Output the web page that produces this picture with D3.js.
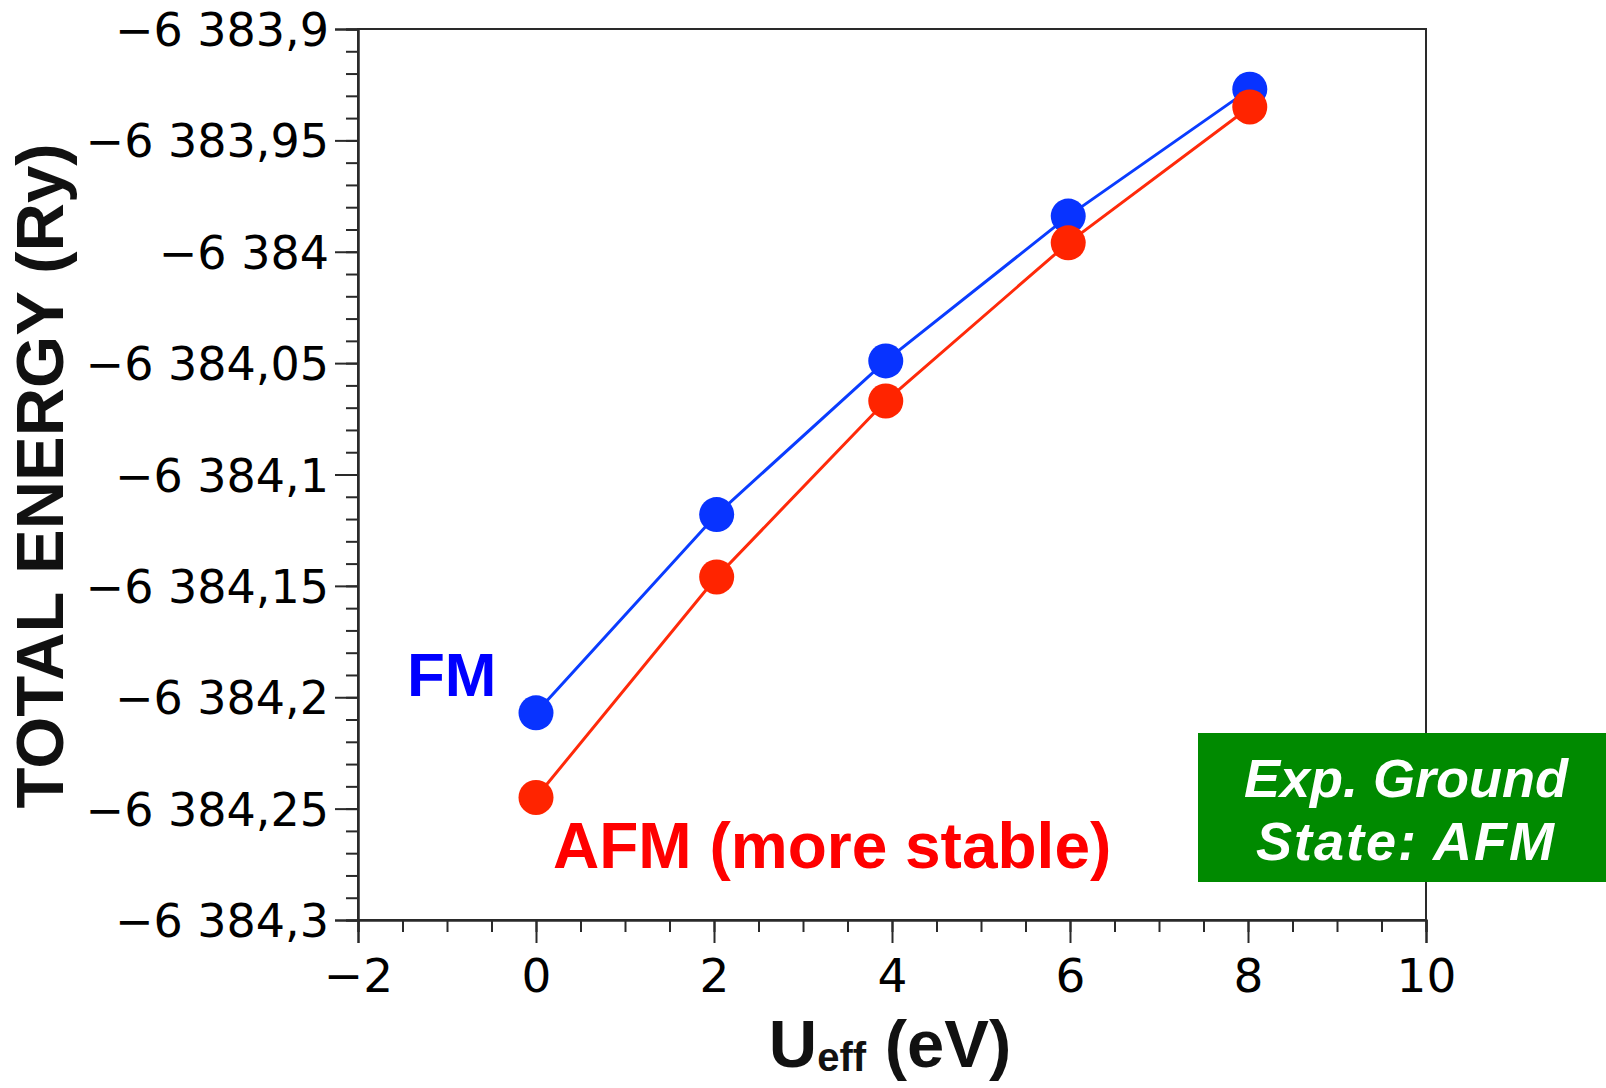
<!DOCTYPE html>
<html>
<head>
<meta charset="utf-8">
<script src="https://cdn.jsdelivr.net/npm/d3@7"></script>
<style>
  html, body { margin: 0; padding: 0; background: #fff; }
  svg { display: block; }
</style>
</head>
<body>
<svg id="chart" width="1606" height="1088"></svg>
<script>
// ---- data ----
const uEff = [0, 2.03, 3.93, 5.98, 8.02];
const fmEnergy = [-6384.207, -6384.118, -6384.049, -6383.984, -6383.927];
const afmEnergy = [-6384.245, -6384.146, -6384.067, -6383.996, -6383.935];

const yTickValues = [-6383.9, -6383.95, -6384, -6384.05, -6384.1, -6384.15, -6384.2, -6384.25, -6384.3];
const yTickLabels = ["\u22126 383,9", "\u22126 383,95", "\u22126 384", "\u22126 384,05", "\u22126 384,1", "\u22126 384,15", "\u22126 384,2", "\u22126 384,25", "\u22126 384,3"];
const xTickValues = [-2, 0, 2, 4, 6, 8, 10];
const xTickLabels = ["\u22122", "0", "2", "4", "6", "8", "10"];

const seriesNames = ["FM", "AFM (more stable)"];
const boxLines = ["Exp. Ground", "State: AFM"];

// ---- layout ----
const svg = d3.select("#chart");
const L = 358, R = 1426, T = 29, B = 920;
const x = d3.scaleLinear().domain([-2, 10]).range([L, R]);
const y = d3.scaleLinear().domain([-6384.3, -6383.9]).range([B, T]);
const axisColor = "#2a2a2a";

// frame
svg.append("rect").attr("x", L).attr("y", T).attr("width", R - L).attr("height", B - T)
  .attr("fill", "none").attr("stroke", axisColor).attr("stroke-width", 2);

// minor ticks
const yMinor = d3.range(0, 41).map(i => -6384.3 + i * 0.01);
const xMinor = d3.range(0, 25).map(i => -2 + i * 0.5);

const yMinorAxis = svg.append("g").attr("transform", `translate(${L},0)`)
  .call(d3.axisLeft(y).tickValues(yMinor).tickSize(12).tickFormat(""));
const xMinorAxis = svg.append("g").attr("transform", `translate(0,${B})`)
  .call(d3.axisBottom(x).tickValues(xMinor).tickSize(12).tickFormat(""));

const yAxis = svg.append("g").attr("transform", `translate(${L},0)`)
  .call(d3.axisLeft(y).tickValues(yTickValues).tickSize(23).tickPadding(6)
    .tickFormat((d, i) => yTickLabels[i]));
const xAxis = svg.append("g").attr("transform", `translate(0,${B})`)
  .call(d3.axisBottom(x).tickValues(xTickValues).tickSize(23).tickPadding(14)
    .tickFormat((d, i) => xTickLabels[i]));

[yMinorAxis, xMinorAxis, yAxis, xAxis].forEach(g => {
  g.selectAll("line").attr("stroke", axisColor).attr("stroke-width", 2);
  g.select(".domain").attr("stroke", axisColor).attr("stroke-width", 2);
});
yAxis.selectAll("text").attr("font-family", "DejaVu Sans").attr("font-size", 46)
  .attr("fill", "#000").attr("dy", "0.36em");
xAxis.selectAll("text").attr("font-family", "DejaVu Sans").attr("font-size", 47)
  .attr("fill", "#000").attr("dy", "0.74em");

// axis titles
svg.append("text")
  .attr("transform", "translate(63,476) rotate(-90)")
  .attr("text-anchor", "middle")
  .attr("font-family", "Liberation Sans, Arial, sans-serif")
  .attr("font-weight", "bold").attr("font-size", 67).attr("fill", "#111")
  .text("TOTAL ENERGY (Ry)");

const xt = svg.append("text")
  .attr("x", 890).attr("y", 1067)
  .attr("text-anchor", "middle")
  .attr("font-family", "Liberation Sans, Arial, sans-serif")
  .attr("font-weight", "bold").attr("font-size", 67).attr("fill", "#111");
xt.append("tspan").text("U");
xt.append("tspan").attr("font-size", 40).attr("dy", 4).text("eff");
xt.append("tspan").attr("dy", -4).text(" (eV)");

// series
const line = d3.line().x(d => x(d[0])).y(d => y(d[1]));
const series = [
  { vals: fmEnergy, line: "#0a3cff", fill: "#0833ff" },
  { vals: afmEnergy, line: "#ff2a0a", fill: "#ff2400" }
];
series.forEach(s => {
  const pts = uEff.map((u, i) => [u, s.vals[i]]);
  svg.append("path").datum(pts).attr("d", line)
    .attr("fill", "none").attr("stroke", s.line).attr("stroke-width", 3);
  svg.selectAll(null).data(pts).enter().append("circle")
    .attr("cx", d => x(d[0])).attr("cy", d => y(d[1])).attr("r", 17.5)
    .attr("fill", s.fill);
});

// series labels
svg.append("text").attr("x", 407).attr("y", 696)
  .attr("font-family", "Liberation Sans, Arial, sans-serif")
  .attr("font-weight", "bold").attr("font-size", 62).attr("fill", "#0000ff")
  .text(seriesNames[0]);
svg.append("text").attr("x", 553).attr("y", 868)
  .attr("font-family", "Liberation Sans, Arial, sans-serif")
  .attr("font-weight", "bold").attr("font-size", 64).attr("fill", "#ff0000")
  .text(seriesNames[1]);

// green box
svg.append("rect").attr("x", 1198).attr("y", 733).attr("width", 408).attr("height", 149)
  .attr("fill", "#008a00");
boxLines.forEach((t, i) => {
  svg.append("text").attr("x", 1406).attr("y", 797 + i * 63)
    .attr("text-anchor", "middle")
    .attr("font-family", "Liberation Sans, Arial, sans-serif")
    .attr("font-weight", "bold").attr("font-style", "italic")
    .attr("font-size", 54).attr("letter-spacing", i === 1 ? 2 : 0).attr("fill", "#fff")
    .text(t);
});
</script>
</body>
</html>
